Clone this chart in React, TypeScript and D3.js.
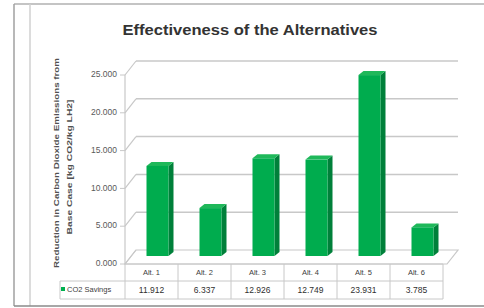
import React from "react";
import * as d3 from "d3";

const categories = ["Alt. 1", "Alt. 2", "Alt. 3", "Alt. 4", "Alt. 5", "Alt. 6"];
const values = [11912, 6337, 12926, 12749, 23931, 3785];
const valueLabels = ["11.912", "6.337", "12.926", "12.749", "23.931", "3.785"];
const yTicks = [0, 5000, 10000, 15000, 20000, 25000];
const yTickLabels = ["0.000", "5.000", "10.000", "15.000", "20.000", "25.000"];
const seriesName = "CO2 Savings";
const title = "Effectiveness of the Alternatives";
const yTitle1 = "Reduction in Carbon Dioxide Emissions from";
const yTitle2 = "Base Case [kg CO2/kg LH2]";

export default function App() {
  const W = 484, H = 308;
  const font = "'Liberation Sans', Arial, sans-serif";
  const x = d3.scaleBand<string>().domain(categories).range([125, 443]).padding(0);
  const y = d3.scaleLinear().domain([0, 25000]).range([264, 75]);
  const DX = 11, DY = -14; // wall depth
  const MX = 6, MY = -8; // bar mid-depth
  const bw = 22;
  const bdx = 5, bdy = -4;
  const grid = "#c8c8c8";
  const tableTop = 264, tableMid = 281, tableBot = 299;

  return (
    <svg width={W} height={H} style={{ position: "absolute", left: 0, top: 0 }} fontFamily={font}>
      <rect x={0} y={0} width={W} height={H} fill="#ffffff" />
      {/* outer frames */}
      <line x1={14} y1={4} x2={484} y2={4} stroke="#b0b0b0" strokeWidth={1.5} />
      <line x1={14} y1={4} x2={14} y2={306} stroke="#a0a0a0" strokeWidth={1.5} />
      <line x1={30} y1={4} x2={30} y2={306} stroke="#d0d0d0" strokeWidth={1.5} />
      <line x1={14} y1={306} x2={484} y2={306} stroke="#8a8a8a" strokeWidth={1.5} />

      {/* title */}
      <text x={250} y={35} textAnchor="middle" fontSize={15} fontWeight="bold" fill="#333"
        textLength={255} lengthAdjust="spacingAndGlyphs">{title}</text>

      {/* y axis title */}
      <g transform="translate(57,163) rotate(-90)">
        <text x={0} y={0} textAnchor="middle" fontSize={8} fontWeight="bold" fill="#505050"
          dominantBaseline="middle" textLength={210} lengthAdjust="spacingAndGlyphs">{yTitle1}</text>
      </g>
      <g transform="translate(70,167) rotate(-90)">
        <text x={0} y={0} textAnchor="middle" fontSize={8} fontWeight="bold" fill="#505050"
          dominantBaseline="middle" textLength={135} lengthAdjust="spacingAndGlyphs">{yTitle2}</text>
      </g>

      {/* floor */}
      <polygon
        points={`${125},${y(0)} ${125 + DX},${y(0) + DY} ${443 + DX + 4},${y(0) + DY} ${443 + 4},${y(0)}`}
        fill="#ffffff" stroke={grid} strokeWidth={1.2} />

      {/* gridlines */}
      {yTicks.map((t, i) => (
        <g key={i}>
          {i > 0 && (
            <line x1={125 + DX} y1={y(t) + DY} x2={458} y2={y(t) + DY} stroke={grid} strokeWidth={1.5} />
          )}
          <line x1={125} y1={y(t)} x2={125 + DX} y2={y(t) + DY} stroke={grid} strokeWidth={1.2} />
          <line x1={120} y1={y(t)} x2={125} y2={y(t)} stroke={grid} strokeWidth={1} />
          <text x={117} y={y(t)} textAnchor="end" dominantBaseline="middle" fontSize={8.5} fill="#595959">
            {yTickLabels[i]}
          </text>
        </g>
      ))}
      <line x1={125} y1={y(25000)} x2={125} y2={y(0)} stroke={grid} strokeWidth={1.2} />

      {/* bars */}
      {categories.map((c, i) => {
        const cx = (x(c) as number) + x.bandwidth() / 2 + MX;
        const x0 = cx - bw / 2, x1 = cx + bw / 2;
        const yb = y(0) + MY, yt = y(values[i]) + MY;
        return (
          <g key={c}>
            <polygon points={`${x1},${yb} ${x1 + bdx},${yb + bdy} ${x1 + bdx},${yt + bdy} ${x1},${yt}`} fill="#00803a" />
            <polygon points={`${x0},${yt} ${x0 + bdx},${yt + bdy} ${x1 + bdx},${yt + bdy} ${x1},${yt}`} fill="#1fb85a" />
            <rect x={x0} y={yt} width={bw} height={yb - yt} fill="#00ac4e" />
          </g>
        );
      })}

      {/* data table */}
      <g stroke={grid} strokeWidth={1}>
        <line x1={125} y1={tableTop} x2={443} y2={tableTop} />
        <line x1={60} y1={tableMid} x2={443} y2={tableMid} />
        <line x1={60} y1={tableBot} x2={443} y2={tableBot} />
        <line x1={60} y1={tableMid} x2={60} y2={tableBot} />
        {categories.map((c) => (
          <line key={c} x1={x(c) as number} y1={tableTop} x2={x(c) as number} y2={tableBot} />
        ))}
        <line x1={443} y1={tableTop} x2={443} y2={tableBot} />
      </g>
      <rect x={61} y={287} width={4} height={4} fill="#00b04f" />
      <text x={67} y={(tableMid + tableBot) / 2 + 0.5} dominantBaseline="middle" fontSize={7.5} fill="#404040">{seriesName}</text>
      {categories.map((c, i) => {
        const cx = (x(c) as number) + x.bandwidth() / 2;
        return (
          <g key={c}>
            <text x={cx} y={(tableTop + tableMid) / 2 + 0.5} textAnchor="middle" dominantBaseline="middle" fontSize={7.5} fill="#404040">{c}</text>
            <text x={cx} y={(tableMid + tableBot) / 2 + 0.5} textAnchor="middle" dominantBaseline="middle" fontSize={8.5} fill="#303030">{valueLabels[i]}</text>
          </g>
        );
      })}
    </svg>
  );
}
